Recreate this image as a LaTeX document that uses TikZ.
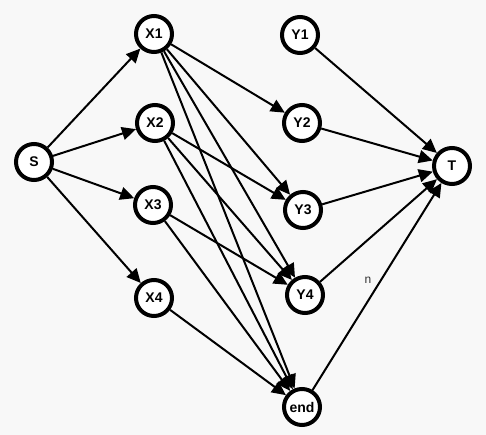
\documentclass[tikz,border=0pt]{standalone}
\usepackage{fontspec}
\setmainfont{Liberation Sans}
\usetikzlibrary{arrows.meta}
\definecolor{bgcol}{RGB}{248,248,248}
\begin{document}
\begin{tikzpicture}[x=1pt,y=-1pt,
  vtx/.style={circle,draw=black,line width=4pt,fill=white,minimum size=36pt,inner sep=0pt,font=\bfseries\fontsize{14}{16}\selectfont},
  edge/.style={line width=2pt,-{Triangle[length=14pt,width=13pt]}}]
\fill[bgcol] (0,0) rectangle (486,435);
\node[vtx] (S) at (34,162) {S};
\node[vtx] (X1) at (154,34) {X1};
\node[vtx] (X2) at (155,123) {X2};
\node[vtx] (X3) at (153,205) {X3};
\node[vtx] (X4) at (154,298) {X4};
\node[vtx] (Y1) at (300,35) {Y1};
\node[vtx] (Y2) at (302,123) {Y2};
\node[vtx] (Y3) at (303,210) {Y3};
\node[vtx] (Y4) at (305,295) {Y4};
\node[vtx] (T) at (452,166) {T};
\node[vtx] (E) at (302,407) {end};
\node[font=\fontsize{12}{14}\selectfont,text=black!80] (n) at (368,280) {n};
\foreach \a/\b in {S/X1,S/X2,S/X3,S/X4,X1/Y2,X1/Y3,X1/Y4,X1/E,X2/Y3,X2/Y4,X2/E,X3/Y4,X3/E,X4/E,Y1/T,Y2/T,Y3/T,Y4/T,E/T}
  \draw[edge] (\a) -- (\b);
\end{tikzpicture}
\end{document}
